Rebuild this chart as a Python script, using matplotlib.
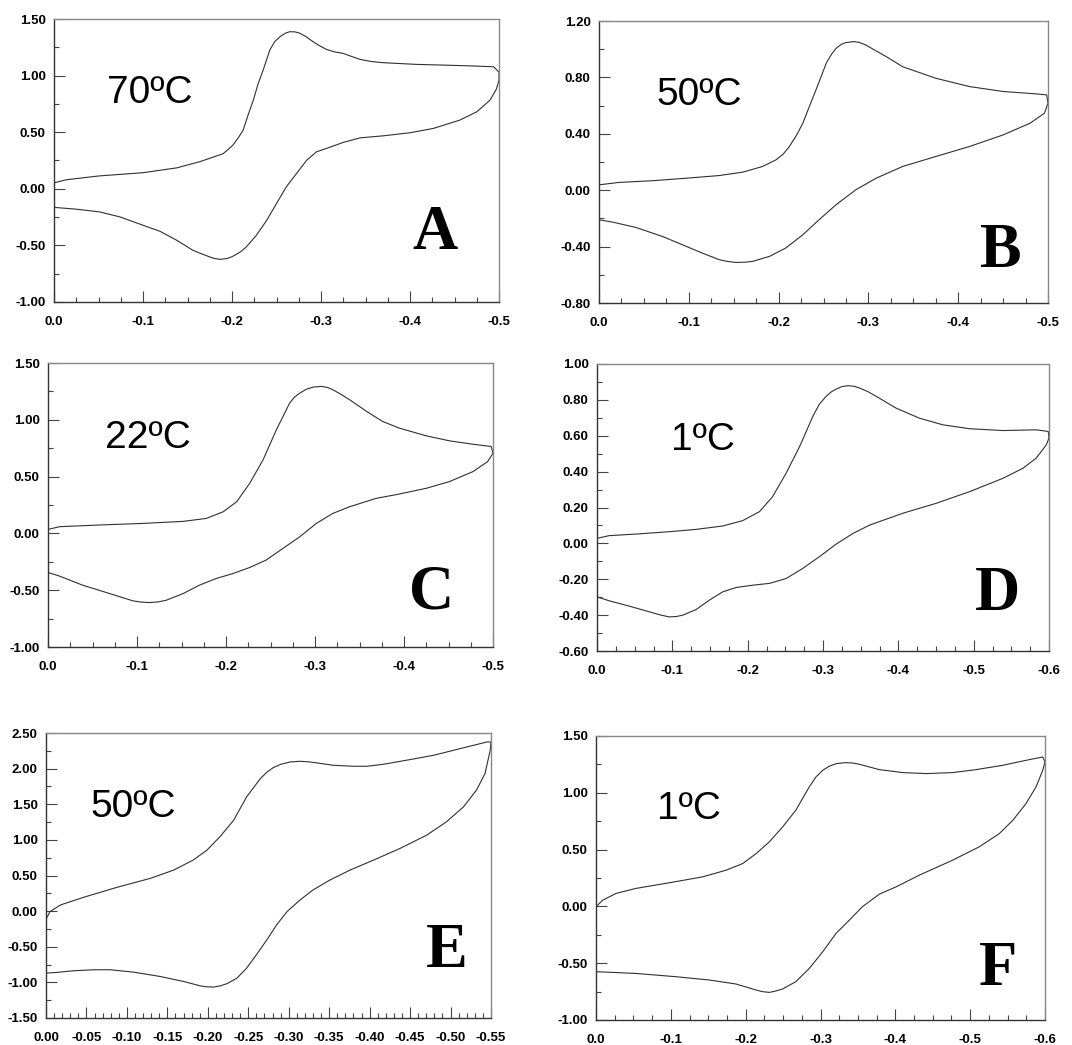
import matplotlib
matplotlib.use("Agg")
import matplotlib.pyplot as plt
from matplotlib.ticker import FormatStrFormatter, MultipleLocator

plt.rcParams['axes.unicode_minus'] = False
plt.rcParams['font.family'] = ['Liberation Sans', 'DejaVu Sans']

# panel labels and temperatures
panels = ["A", "B", "C", "D", "E", "F"]
temps = ["70ºC", "50ºC", "22ºC", "1ºC", "50ºC", "1ºC"]

# axis ranges and ticks
x_ends = [-0.5, -0.5, -0.5, -0.6, -0.55, -0.6]
x_major = [0.1, 0.1, 0.1, 0.1, 0.05, 0.1]
x_minor = [0.025, 0.025, 0.025, 0.025, 0.01, 0.025]
x_fmt = ['%.1f', '%.1f', '%.1f', '%.1f', '%.2f', '%.1f']
y_lims = [(-1.0, 1.5), (-0.8, 1.2), (-1.0, 1.5), (-0.6, 1.0), (-1.5, 2.5), (-1.0, 1.5)]
y_major = [0.5, 0.4, 0.5, 0.2, 0.5, 0.5]

# --- A 70C ---
a_up_e = [0, -0.014, -0.051, -0.1, -0.138, -0.164, -0.19, -0.196, -0.201, -0.207, -0.2125,
          -0.218, -0.224, -0.229, -0.235, -0.2425, -0.248, -0.254, -0.26, -0.265, -0.271,
          -0.276, -0.283, -0.291, -0.298, -0.306, -0.315, -0.325, -0.334, -0.344, -0.356,
          -0.37, -0.4075, -0.464, -0.494, -0.5]
a_up_i = [0.053, 0.08, 0.114, 0.142, 0.185, 0.24, 0.31, 0.35, 0.386, 0.45, 0.518,
          0.65, 0.784, 0.92, 1.049, 1.226, 1.30, 1.344, 1.375, 1.388, 1.386,
          1.375, 1.345, 1.30, 1.265, 1.232, 1.21, 1.196, 1.17, 1.143, 1.125,
          1.114, 1.099, 1.087, 1.078, 1.03]
a_dn_e = [-0.5, -0.497, -0.49, -0.475, -0.456, -0.426, -0.4, -0.37, -0.344, -0.325, -0.306,
          -0.295, -0.284, -0.2725, -0.261, -0.25, -0.239, -0.2275, -0.216, -0.21, -0.205,
          -0.2, -0.194, -0.186, -0.18, -0.175, -0.166, -0.156, -0.138, -0.119, -0.1, -0.074,
          -0.051, -0.025, -0.003, 0]
a_dn_i = [0.96, 0.88, 0.784, 0.68, 0.607, 0.533, 0.495, 0.468, 0.45, 0.41, 0.356,
          0.327, 0.253, 0.135, 0.017, -0.13, -0.278, -0.41, -0.514, -0.555, -0.578,
          -0.60, -0.617, -0.623, -0.615, -0.602, -0.575, -0.543, -0.455, -0.375, -0.322, -0.248,
          -0.204, -0.18, -0.166, -0.16]

# --- B 50C ---
b_up_e = [0, -0.022, -0.059, -0.097, -0.134, -0.16, -0.182, -0.197, -0.205, -0.212, -0.22,
          -0.227, -0.234, -0.2416, -0.247, -0.253, -0.259, -0.264, -0.27, -0.275, -0.284,
          -0.29, -0.297, -0.308, -0.32, -0.338, -0.375, -0.4126, -0.45, -0.487, -0.4985, -0.5]
b_up_i = [0.038, 0.055, 0.067, 0.085, 0.104, 0.128, 0.168, 0.215, 0.255, 0.31, 0.39,
          0.475, 0.59, 0.711, 0.80, 0.90, 0.965, 1.006, 1.035, 1.047, 1.054,
          1.048, 1.03, 0.99, 0.947, 0.876, 0.794, 0.735, 0.70, 0.683, 0.676, 0.617]
b_dn_e = [-0.5, -0.496, -0.48, -0.45, -0.4126, -0.375, -0.338, -0.3086, -0.286, -0.264,
          -0.245, -0.227, -0.208, -0.19, -0.171, -0.162, -0.152, -0.143, -0.134, -0.115,
          -0.093, -0.0706, -0.041, -0.015, 0]
b_dn_i = [0.617, 0.546, 0.475, 0.392, 0.31, 0.239, 0.168, 0.085, 0.003, -0.103,
          -0.21, -0.316, -0.41, -0.469, -0.505, -0.511, -0.512, -0.505, -0.493, -0.446,
          -0.387, -0.328, -0.264, -0.226, -0.21]

# --- C 22C ---
c_up_e = [0, -0.013, -0.058, -0.107, -0.152, -0.178, -0.197, -0.212, -0.2266, -0.2416,
          -0.2566, -0.2715, -0.277, -0.283, -0.29, -0.298, -0.307, -0.314, -0.32, -0.329,
          -0.339, -0.358, -0.376, -0.395, -0.425, -0.451, -0.4775, -0.498, -0.5]
c_up_i = [0.035, 0.059, 0.074, 0.088, 0.106, 0.132, 0.191, 0.279, 0.44, 0.647,
          0.912, 1.147, 1.20, 1.235, 1.268, 1.288, 1.294, 1.285, 1.265, 1.225,
          1.176, 1.074, 0.985, 0.926, 0.859, 0.815, 0.785, 0.765, 0.706]
c_dn_e = [-0.5, -0.494, -0.4775, -0.451, -0.425, -0.395, -0.369, -0.339, -0.32, -0.3015,
          -0.283, -0.264, -0.245, -0.2266, -0.208, -0.189, -0.17, -0.152, -0.133, -0.124,
          -0.114, -0.105, -0.0955, -0.069, -0.039, -0.013, 0]
c_dn_i = [0.706, 0.632, 0.544, 0.456, 0.397, 0.347, 0.309, 0.235, 0.176, 0.088,
          -0.029, -0.132, -0.235, -0.30, -0.353, -0.397, -0.456, -0.529, -0.588, -0.603,
          -0.609, -0.605, -0.594, -0.529, -0.456, -0.376, -0.344]

# --- D 1C ---
d_up_e = [0, -0.016, -0.052, -0.096, -0.1315, -0.167, -0.1935, -0.2157, -0.233, -0.251,
          -0.269, -0.2865, -0.295, -0.304, -0.311, -0.3175, -0.325, -0.333, -0.341, -0.3485,
          -0.36, -0.371, -0.397, -0.428, -0.459, -0.495, -0.539, -0.583, -0.599, -0.6]
d_up_i = [0.028, 0.043, 0.052, 0.065, 0.078, 0.097, 0.127, 0.177, 0.26, 0.391,
          0.54, 0.708, 0.775, 0.819, 0.845, 0.86, 0.874, 0.879, 0.876, 0.866,
          0.845, 0.819, 0.754, 0.698, 0.661, 0.639, 0.629, 0.633, 0.624, 0.587]
d_dn_e = [-0.6, -0.5965, -0.583, -0.5655, -0.539, -0.495, -0.45, -0.406, -0.362, -0.34,
          -0.3175, -0.295, -0.273, -0.251, -0.229, -0.207, -0.1847, -0.167, -0.149, -0.1315,
          -0.114, -0.105, -0.096, -0.085, -0.074, -0.043, -0.016, 0]
d_dn_i = [0.587, 0.55, 0.475, 0.419, 0.363, 0.289, 0.223, 0.168, 0.102, 0.056,
          -0.004, -0.075, -0.14, -0.196, -0.223, -0.233, -0.246, -0.27, -0.317, -0.369,
          -0.40, -0.408, -0.41, -0.40, -0.387, -0.35, -0.32, -0.298]

# --- E 50C ---
e_up_e = [0, -0.005, -0.018, -0.0465, -0.0877, -0.129, -0.158, -0.182, -0.199, -0.215,
          -0.232, -0.248, -0.265, -0.273, -0.281, -0.29, -0.302, -0.314, -0.325, -0.335,
          -0.355, -0.38, -0.3965, -0.417, -0.45, -0.479, -0.52, -0.545, -0.55]
e_up_i = [-0.114, -0.006, 0.087, 0.194, 0.334, 0.46, 0.577, 0.717, 0.857, 1.044,
          1.277, 1.604, 1.861, 1.95, 2.015, 2.06, 2.094, 2.103, 2.095, 2.08,
          2.047, 2.033, 2.033, 2.061, 2.127, 2.187, 2.304, 2.374, 2.374]
e_dn_e = [-0.55, -0.549, -0.5426, -0.532, -0.516, -0.495, -0.4706, -0.4376, -0.405, -0.376,
          -0.351, -0.33, -0.314, -0.298, -0.285, -0.273, -0.26, -0.248, -0.236, -0.2235,
          -0.215, -0.207, -0.198, -0.19, -0.17, -0.141, -0.108, -0.0795, -0.059, -0.034,
          -0.0136, 0]
e_dn_i = [2.374, 2.257, 1.93, 1.697, 1.464, 1.254, 1.067, 0.88, 0.717, 0.577,
          0.437, 0.297, 0.157, -0.006, -0.193, -0.403, -0.613, -0.80, -0.94, -1.019,
          -1.05, -1.066, -1.062, -1.047, -0.987, -0.917, -0.856, -0.823, -0.823, -0.837,
          -0.86, -0.87]

# --- F 1C ---
f_up_e = [0, -0.009, -0.0267, -0.053, -0.098, -0.1425, -0.174, -0.196, -0.214, -0.2316,
          -0.2494, -0.267, -0.285, -0.294, -0.303, -0.312, -0.321, -0.334, -0.343, -0.352,
          -0.3786, -0.41, -0.441, -0.4766, -0.508, -0.5434, -0.579, -0.597, -0.6]
f_up_i = [-0.003, 0.055, 0.114, 0.158, 0.208, 0.26, 0.319, 0.377, 0.465, 0.568,
          0.70, 0.846, 1.052, 1.14, 1.198, 1.235, 1.257, 1.266, 1.262, 1.251,
          1.204, 1.178, 1.169, 1.178, 1.204, 1.242, 1.292, 1.315, 1.271]
f_dn_e = [-0.6, -0.597, -0.588, -0.5746, -0.557, -0.539, -0.512, -0.4766, -0.432, -0.401,
          -0.3786, -0.356, -0.3385, -0.3207, -0.303, -0.285, -0.267, -0.2494, -0.24, -0.2316,
          -0.222, -0.214, -0.187, -0.1514, -0.107, -0.053, -0.022, 0]
f_dn_i = [1.271, 1.198, 1.052, 0.905, 0.758, 0.641, 0.524, 0.407, 0.275, 0.172,
          0.108, -0.003, -0.121, -0.238, -0.399, -0.546, -0.663, -0.727, -0.745, -0.757,
          -0.75, -0.736, -0.683, -0.648, -0.619, -0.59, -0.581, -0.575]

curves = [(a_up_e, a_up_i, a_dn_e, a_dn_i),
          (b_up_e, b_up_i, b_dn_e, b_dn_i),
          (c_up_e, c_up_i, c_dn_e, c_dn_i),
          (d_up_e, d_up_i, d_dn_e, d_dn_i),
          (e_up_e, e_up_i, e_dn_e, e_dn_i),
          (f_up_e, f_up_i, f_dn_e, f_dn_i)]

# axes boxes in pixels (left, top, right, bottom)
boxes = [(54, 19, 499, 302), (599, 21, 1048, 303),
         (48, 363, 493, 647), (597, 364, 1049, 651),
         (46, 733, 491, 1018), (596, 736, 1045, 1020)]
temp_pos = [(0.12, 0.74), (0.127, 0.738), (0.128, 0.736),
            (0.164, 0.735), (0.10, 0.74), (0.136, 0.743)]
letter_pos = [(0.857, 0.24), (0.895, 0.18), (0.863, 0.19),
              (0.887, 0.195), (0.90, 0.23), (0.895, 0.176)]

W, H = 1072, 1045
fig = plt.figure(figsize=(W / 100, H / 100), dpi=100)

for k in range(6):
    l, t, r, b = boxes[k]
    ax = fig.add_axes([l / W, 1 - b / H, (r - l) / W, (b - t) / H])
    up_e, up_i, dn_e, dn_i = curves[k]
    ax.plot(list(up_e) + list(dn_e) + [up_e[0]],
            list(up_i) + list(dn_i) + [up_i[0]],
            color='#303030', lw=0.8, solid_joinstyle='round')
    ax.set_xlim(0, x_ends[k])
    ax.set_ylim(*y_lims[k])
    ax.xaxis.set_major_locator(MultipleLocator(x_major[k]))
    ax.xaxis.set_minor_locator(MultipleLocator(x_minor[k]))
    ax.yaxis.set_major_locator(MultipleLocator(y_major[k]))
    ax.yaxis.set_minor_locator(MultipleLocator(y_major[k] / 2))
    ax.xaxis.set_major_formatter(FormatStrFormatter(x_fmt[k]))
    ax.yaxis.set_major_formatter(FormatStrFormatter('%.2f'))
    ax.tick_params(which='major', direction='in', length=8, width=0.8, color='#444444',
                   labelsize=9.5, pad=6)
    ax.tick_params(which='minor', direction='in', length=3.5, width=0.8, color='#444444')
    ax.tick_params(axis='x', pad=10)
    for lab in ax.get_xticklabels() + ax.get_yticklabels():
        lab.set_fontweight('bold')
    for side in ['top', 'right']:
        ax.spines[side].set_color('#888888')
    for side in ['left', 'bottom']:
        ax.spines[side].set_color('#333333')
    for sp in ax.spines.values():
        sp.set_linewidth(1.0)
    ax.text(temp_pos[k][0], temp_pos[k][1], temps[k], transform=ax.transAxes,
            fontsize=28, ha='left', va='center', color='black')
    ax.text(letter_pos[k][0], letter_pos[k][1], panels[k], transform=ax.transAxes,
            fontsize=45, fontweight='bold', family=['Liberation Serif', 'DejaVu Serif'],
            ha='center', va='center', color='black')

fig.savefig("out.png", dpi=100)
